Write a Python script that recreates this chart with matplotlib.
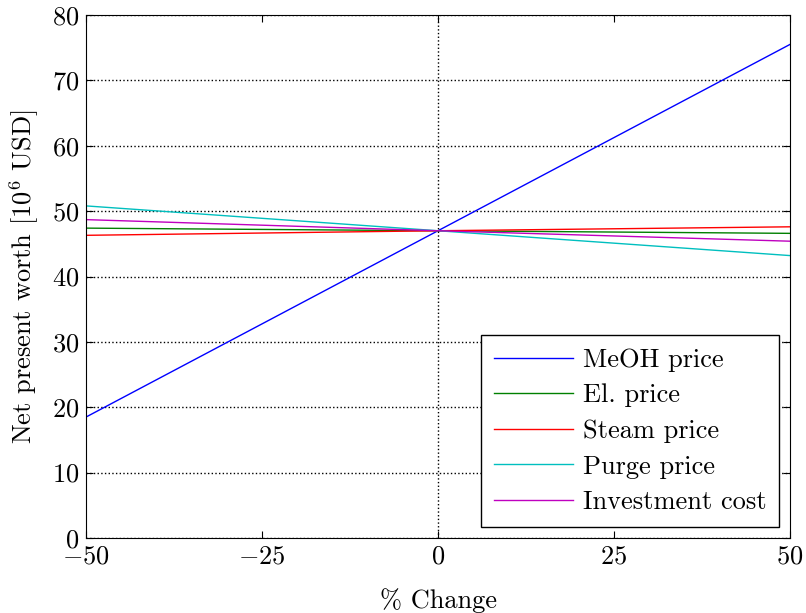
import matplotlib
matplotlib.use("Agg")
import matplotlib.pyplot as plt

plt.rcParams['font.family'] = 'serif'
plt.rcParams['font.serif'] = ['cmr10']
plt.rcParams['mathtext.fontset'] = 'cm'
plt.rcParams['axes.formatter.use_mathtext'] = True
plt.rcParams['axes.unicode_minus'] = True
plt.rcParams['font.size'] = 19

# % change and net present worth [1e6 USD]
change = [-50, 0, 50]
meoh = [18.5, 47.0, 75.5]
el = [47.4, 47.0, 46.6]
steam = [46.3, 47.0, 47.6]
purge = [50.8, 47.0, 43.2]
invest = [48.7, 47.0, 45.4]

series = [
    ("MeOH price", meoh, "b"),
    ("El. price", el, "g"),
    ("Steam price", steam, "r"),
    ("Purge price", purge, "c"),
    ("Investment cost", invest, "m"),
]

fig = plt.figure(figsize=(8.06, 6.13), dpi=100)
ax = fig.add_axes([86/806, 1-538/613, (790-86)/806, (538-15)/613])

for name, vals, col in series:
    ax.plot(change, vals, color=col, lw=1.0, label=name)

ax.set_xlim(-50, 50)
ax.set_ylim(0, 80)
ax.set_xticks([-50, -25, 0, 25, 50])
ax.set_yticks(range(0, 81, 10))
ax.yaxis.grid(True, linestyle=':', color='k', lw=1.0)
ax.axvline(0, linestyle=':', color='k', lw=1.0)
ax.tick_params(direction='in', top=True, right=True, length=5, pad=5)

ax.set_xlabel('% Change', labelpad=14)
ax.set_ylabel(r'Net present worth [$10^6$ USD]', labelpad=8)

leg = ax.legend(loc='lower right', fancybox=False, edgecolor='k',
                framealpha=1, borderaxespad=0.4, handlelength=3.0,
                handletextpad=0.35, labelspacing=0.45, borderpad=0.5)
leg.get_frame().set_linewidth(1.0)

fig.savefig('out.png', dpi=100)
